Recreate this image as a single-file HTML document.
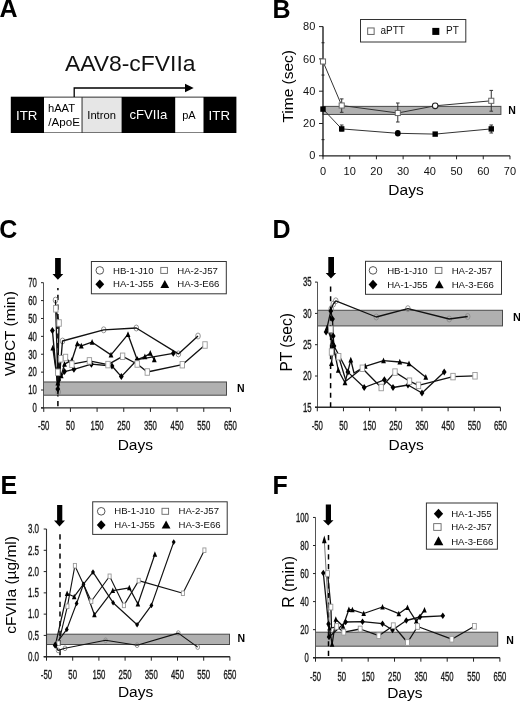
<!DOCTYPE html><html><head><meta charset="utf-8"><style>html,body{margin:0;padding:0;background:#fff;}svg{display:block;filter:blur(0.35px);}text{font-family:"Liberation Sans", sans-serif;}</style></head><body>
<svg width="520" height="702" viewBox="0 0 520 702">
<rect width="520" height="702" fill="#fff"/>
<text x="-0.5" y="17.4" font-size="25" text-anchor="start" font-weight="bold" fill="#000" >A</text>
<text x="130.2" y="71.4" font-size="22.9" text-anchor="middle" font-weight="normal" fill="#111" >AAV8-cFVIIa</text>
<path d="M74.2,97 L74.2,88 L187,88" fill="none" stroke="#000" stroke-width="1.3"/>
<path d="M185,83.7 L193.7,88 L185,92.3 Z" fill="#000"/>
<rect x="10.8" y="96.7" width="225.6" height="36.3" fill="#000" stroke="none" stroke-width="1"/>
<rect x="44" y="97.5" width="37.8" height="35" fill="#fff" stroke="none" stroke-width="1"/>
<rect x="82.3" y="97.5" width="39.3" height="35" fill="#e6e6e6" stroke="none" stroke-width="1"/>
<line x1="82" y1="97" x2="82" y2="133" stroke="#555" stroke-width="0.8" />
<rect x="175.2" y="97.5" width="28.3" height="35" fill="#fff" stroke="none" stroke-width="1"/>
<text x="26.7" y="119.5" font-size="13.3" text-anchor="middle" font-weight="normal" fill="#fff" >ITR</text>
<text x="61.5" y="112.4" font-size="11.2" text-anchor="middle" font-weight="normal" fill="#000" >hAAT</text>
<text x="64.1" y="125.8" font-size="11.6" text-anchor="middle" font-weight="normal" fill="#000" >/ApoE</text>
<text x="101.6" y="118.9" font-size="11.2" text-anchor="middle" font-weight="normal" fill="#000" >Intron</text>
<text x="148.4" y="119.3" font-size="13.1" text-anchor="middle" font-weight="normal" fill="#fff" >cFVIIa</text>
<text x="188.9" y="119.3" font-size="11.0" text-anchor="middle" font-weight="normal" fill="#000" >pA</text>
<text x="219.3" y="119.5" font-size="13.3" text-anchor="middle" font-weight="normal" fill="#fff" >ITR</text>
<text x="272.5" y="17.6" font-size="25" text-anchor="start" font-weight="bold" fill="#000" >B</text>
<rect x="323" y="106.38" width="177.9" height="8.08" fill="#b0b0b0" stroke="#4a4a4a" stroke-width="1"/>
<line x1="323" y1="26.6" x2="323" y2="156.3" stroke="#222" stroke-width="1.4" />
<line x1="322.5" y1="155.8" x2="509.97" y2="155.8" stroke="#222" stroke-width="1.3" />
<line x1="319" y1="155.8" x2="323" y2="155.8" stroke="#222" stroke-width="1" />
<text x="315.3" y="159.4" font-size="11" text-anchor="end" font-weight="normal" fill="#111" >0</text>
<line x1="319" y1="123.5" x2="323" y2="123.5" stroke="#222" stroke-width="1" />
<text x="315.3" y="127.1" font-size="11" text-anchor="end" font-weight="normal" fill="#111" >20</text>
<line x1="319" y1="91.2" x2="323" y2="91.2" stroke="#222" stroke-width="1" />
<text x="315.3" y="94.8" font-size="11" text-anchor="end" font-weight="normal" fill="#111" >40</text>
<line x1="319" y1="58.9" x2="323" y2="58.9" stroke="#222" stroke-width="1" />
<text x="315.3" y="62.5" font-size="11" text-anchor="end" font-weight="normal" fill="#111" >60</text>
<line x1="319" y1="26.6" x2="323" y2="26.6" stroke="#222" stroke-width="1" />
<text x="315.3" y="30.2" font-size="11" text-anchor="end" font-weight="normal" fill="#111" >80</text>
<line x1="321.5" y1="139.65" x2="324.5" y2="139.65" stroke="#222" stroke-width="1" />
<line x1="321.5" y1="107.35" x2="324.5" y2="107.35" stroke="#222" stroke-width="1" />
<line x1="321.5" y1="75.05" x2="324.5" y2="75.05" stroke="#222" stroke-width="1" />
<line x1="321.5" y1="42.75" x2="324.5" y2="42.75" stroke="#222" stroke-width="1" />
<line x1="323" y1="155.8" x2="323" y2="159.3" stroke="#222" stroke-width="1" />
<text x="323" y="175.3" font-size="11" text-anchor="middle" font-weight="normal" fill="#111" >0</text>
<line x1="349.71" y1="155.8" x2="349.71" y2="159.3" stroke="#222" stroke-width="1" />
<text x="349.71" y="175.3" font-size="11" text-anchor="middle" font-weight="normal" fill="#111" >10</text>
<line x1="376.42" y1="155.8" x2="376.42" y2="159.3" stroke="#222" stroke-width="1" />
<text x="376.42" y="175.3" font-size="11" text-anchor="middle" font-weight="normal" fill="#111" >20</text>
<line x1="403.13" y1="155.8" x2="403.13" y2="159.3" stroke="#222" stroke-width="1" />
<text x="403.13" y="175.3" font-size="11" text-anchor="middle" font-weight="normal" fill="#111" >30</text>
<line x1="429.84" y1="155.8" x2="429.84" y2="159.3" stroke="#222" stroke-width="1" />
<text x="429.84" y="175.3" font-size="11" text-anchor="middle" font-weight="normal" fill="#111" >40</text>
<line x1="456.55" y1="155.8" x2="456.55" y2="159.3" stroke="#222" stroke-width="1" />
<text x="456.55" y="175.3" font-size="11" text-anchor="middle" font-weight="normal" fill="#111" >50</text>
<line x1="483.26" y1="155.8" x2="483.26" y2="159.3" stroke="#222" stroke-width="1" />
<text x="483.26" y="175.3" font-size="11" text-anchor="middle" font-weight="normal" fill="#111" >60</text>
<line x1="509.97" y1="155.8" x2="509.97" y2="159.3" stroke="#222" stroke-width="1" />
<text x="509.97" y="175.3" font-size="11" text-anchor="middle" font-weight="normal" fill="#111" >70</text>
<text x="406" y="195" font-size="15.5" text-anchor="middle" font-weight="normal" fill="#000" >Days</text>
<text transform="translate(292.8,86.3) rotate(-90)" x="0" y="0" font-size="15.5" text-anchor="middle" fill="#000">Time (sec)</text>
<text x="508.3" y="114" font-size="10.5" text-anchor="start" font-weight="bold" fill="#000" >N</text>
<rect x="360.5" y="19.5" width="105.3" height="22.5" fill="#fff" stroke="#333" stroke-width="1"/>
<rect x="367.66" y="27.96" width="6.48" height="6.48" fill="#fff" stroke="#666" stroke-width="1"/>
<text x="380.5" y="34.1" font-size="10" text-anchor="start" font-weight="normal" fill="#111" >aPTT</text>
<rect x="432.29" y="27.89" width="7.02" height="7.02" fill="#000"/>
<text x="446" y="34.1" font-size="10" text-anchor="start" font-weight="normal" fill="#111" >PT</text>
<line x1="341.7" y1="98.9" x2="341.7" y2="112.3" stroke="#333" stroke-width="1" />
<line x1="339.9" y1="98.9" x2="343.5" y2="98.9" stroke="#333" stroke-width="1" />
<line x1="339.9" y1="112.3" x2="343.5" y2="112.3" stroke="#333" stroke-width="1" />
<line x1="397.79" y1="103" x2="397.79" y2="122" stroke="#333" stroke-width="1" />
<line x1="395.99" y1="103" x2="399.59" y2="103" stroke="#333" stroke-width="1" />
<line x1="395.99" y1="122" x2="399.59" y2="122" stroke="#333" stroke-width="1" />
<line x1="491.27" y1="90.4" x2="491.27" y2="111.2" stroke="#333" stroke-width="1" />
<line x1="489.47" y1="90.4" x2="493.07" y2="90.4" stroke="#333" stroke-width="1" />
<line x1="489.47" y1="111.2" x2="493.07" y2="111.2" stroke="#333" stroke-width="1" />
<line x1="491.27" y1="125" x2="491.27" y2="133" stroke="#333" stroke-width="1" />
<line x1="489.47" y1="125" x2="493.07" y2="125" stroke="#333" stroke-width="1" />
<line x1="489.47" y1="133" x2="493.07" y2="133" stroke="#333" stroke-width="1" />
<line x1="341.7" y1="125" x2="341.7" y2="131" stroke="#333" stroke-width="1" />
<line x1="339.9" y1="125" x2="343.5" y2="125" stroke="#333" stroke-width="1" />
<line x1="339.9" y1="131" x2="343.5" y2="131" stroke="#333" stroke-width="1" />
<polyline points="323,61.5 341.7,105.5 397.79,113 435.18,105.8 491.27,100.8" fill="none" stroke="#333" stroke-width="1.0" stroke-linejoin="round"/>
<polyline points="323,109.1 341.7,128.9 397.79,133.3 435.18,134.1 491.27,128.9" fill="none" stroke="#333" stroke-width="1.0" stroke-linejoin="round"/>
<rect x="320.45" y="58.95" width="5.1" height="5.1" fill="#fff" stroke="#666" stroke-width="1"/>
<rect x="339.15" y="102.95" width="5.1" height="5.1" fill="#fff" stroke="#666" stroke-width="1"/>
<rect x="395.24" y="110.45" width="5.1" height="5.1" fill="#fff" stroke="#666" stroke-width="1"/>
<circle cx="435.18" cy="105.8" r="2.8" fill="#fff" stroke="#222" stroke-width="1.1"/>
<rect x="488.72" y="98.25" width="5.1" height="5.1" fill="#fff" stroke="#666" stroke-width="1"/>
<rect x="320.3" y="106.4" width="5.4" height="5.4" fill="#000"/>
<rect x="339" y="126.2" width="5.4" height="5.4" fill="#000"/>
<ellipse cx="397.79" cy="133.3" rx="2.9" ry="3.3" fill="#000"/>
<rect x="432.48" y="131.4" width="5.4" height="5.4" fill="#000"/>
<rect x="488.57" y="126.2" width="5.4" height="5.4" fill="#000"/>
<text x="-0.8" y="238.4" font-size="25" text-anchor="start" font-weight="bold" fill="#000" >C</text>
<rect x="43.5" y="381.97" width="183" height="13.24" fill="#b0b0b0" stroke="#4a4a4a" stroke-width="1"/>
<line x1="43.5" y1="282.7" x2="43.5" y2="407.9" stroke="#555" stroke-width="1" />
<line x1="41" y1="407.9" x2="230.44" y2="407.9" stroke="#2a2a2a" stroke-width="1.4" />
<line x1="41" y1="407.9" x2="43.5" y2="407.9" stroke="#222" stroke-width="1" />
<text x="36.9" y="412.2" font-size="12" text-anchor="end" fill="#1a1a1a" stroke="#1a1a1a" stroke-width="0.35" textLength="4.34" lengthAdjust="spacingAndGlyphs">0</text>
<line x1="41" y1="390.01" x2="43.5" y2="390.01" stroke="#222" stroke-width="1" />
<text x="36.9" y="394.31" font-size="12" text-anchor="end" fill="#1a1a1a" stroke="#1a1a1a" stroke-width="0.35" textLength="8.67" lengthAdjust="spacingAndGlyphs">10</text>
<line x1="41" y1="372.13" x2="43.5" y2="372.13" stroke="#222" stroke-width="1" />
<text x="36.9" y="376.43" font-size="12" text-anchor="end" fill="#1a1a1a" stroke="#1a1a1a" stroke-width="0.35" textLength="8.67" lengthAdjust="spacingAndGlyphs">20</text>
<line x1="41" y1="354.24" x2="43.5" y2="354.24" stroke="#222" stroke-width="1" />
<text x="36.9" y="358.54" font-size="12" text-anchor="end" fill="#1a1a1a" stroke="#1a1a1a" stroke-width="0.35" textLength="8.67" lengthAdjust="spacingAndGlyphs">30</text>
<line x1="41" y1="336.36" x2="43.5" y2="336.36" stroke="#222" stroke-width="1" />
<text x="36.9" y="340.66" font-size="12" text-anchor="end" fill="#1a1a1a" stroke="#1a1a1a" stroke-width="0.35" textLength="8.67" lengthAdjust="spacingAndGlyphs">40</text>
<line x1="41" y1="318.47" x2="43.5" y2="318.47" stroke="#222" stroke-width="1" />
<text x="36.9" y="322.77" font-size="12" text-anchor="end" fill="#1a1a1a" stroke="#1a1a1a" stroke-width="0.35" textLength="8.67" lengthAdjust="spacingAndGlyphs">50</text>
<line x1="41" y1="300.58" x2="43.5" y2="300.58" stroke="#222" stroke-width="1" />
<text x="36.9" y="304.88" font-size="12" text-anchor="end" fill="#1a1a1a" stroke="#1a1a1a" stroke-width="0.35" textLength="8.67" lengthAdjust="spacingAndGlyphs">60</text>
<line x1="41" y1="282.7" x2="43.5" y2="282.7" stroke="#222" stroke-width="1" />
<text x="36.9" y="287" font-size="12" text-anchor="end" fill="#1a1a1a" stroke="#1a1a1a" stroke-width="0.35" textLength="8.67" lengthAdjust="spacingAndGlyphs">70</text>
<line x1="43.75" y1="407.9" x2="43.75" y2="411.9" stroke="#222" stroke-width="1" />
<text x="43.75" y="430.3" font-size="12" text-anchor="middle" fill="#1a1a1a" stroke="#1a1a1a" stroke-width="0.35" textLength="11.27" lengthAdjust="spacingAndGlyphs">-50</text>
<line x1="70.42" y1="407.9" x2="70.42" y2="411.9" stroke="#222" stroke-width="1" />
<text x="70.42" y="430.3" font-size="12" text-anchor="middle" fill="#1a1a1a" stroke="#1a1a1a" stroke-width="0.35" textLength="8.67" lengthAdjust="spacingAndGlyphs">50</text>
<line x1="97.09" y1="407.9" x2="97.09" y2="411.9" stroke="#222" stroke-width="1" />
<text x="97.09" y="430.3" font-size="12" text-anchor="middle" fill="#1a1a1a" stroke="#1a1a1a" stroke-width="0.35" textLength="13.01" lengthAdjust="spacingAndGlyphs">150</text>
<line x1="123.76" y1="407.9" x2="123.76" y2="411.9" stroke="#222" stroke-width="1" />
<text x="123.76" y="430.3" font-size="12" text-anchor="middle" fill="#1a1a1a" stroke="#1a1a1a" stroke-width="0.35" textLength="13.01" lengthAdjust="spacingAndGlyphs">250</text>
<line x1="150.43" y1="407.9" x2="150.43" y2="411.9" stroke="#222" stroke-width="1" />
<text x="150.43" y="430.3" font-size="12" text-anchor="middle" fill="#1a1a1a" stroke="#1a1a1a" stroke-width="0.35" textLength="13.01" lengthAdjust="spacingAndGlyphs">350</text>
<line x1="177.1" y1="407.9" x2="177.1" y2="411.9" stroke="#222" stroke-width="1" />
<text x="177.1" y="430.3" font-size="12" text-anchor="middle" fill="#1a1a1a" stroke="#1a1a1a" stroke-width="0.35" textLength="13.01" lengthAdjust="spacingAndGlyphs">450</text>
<line x1="203.77" y1="407.9" x2="203.77" y2="411.9" stroke="#222" stroke-width="1" />
<text x="203.77" y="430.3" font-size="12" text-anchor="middle" fill="#1a1a1a" stroke="#1a1a1a" stroke-width="0.35" textLength="13.01" lengthAdjust="spacingAndGlyphs">550</text>
<line x1="230.44" y1="407.9" x2="230.44" y2="411.9" stroke="#222" stroke-width="1" />
<text x="230.44" y="430.3" font-size="12" text-anchor="middle" fill="#1a1a1a" stroke="#1a1a1a" stroke-width="0.35" textLength="13.01" lengthAdjust="spacingAndGlyphs">650</text>
<text x="135.3" y="450.2" font-size="15.5" text-anchor="middle" font-weight="normal" fill="#000" >Days</text>
<text transform="translate(14.8,333.6) rotate(-90)" x="0" y="0" font-size="15.5" text-anchor="middle" fill="#000">WBCT (min)</text>
<text x="237" y="392.4" font-size="10.5" text-anchor="start" font-weight="bold" fill="#000" >N</text>
<line x1="57.9" y1="288" x2="57.9" y2="406.5" stroke="#000" stroke-width="1.5" stroke-dasharray="5.2,4.45" stroke-dashoffset="2.85"/>
<path d="M55.1,258.1L60.8,258.1L60.8,273.9L63.3,273.9L57.9,279.7L52.5,273.9L55.1,273.9Z" fill="#000"/>
<rect x="91.4" y="261.5" width="134.9" height="32.3" fill="#fff" stroke="#333" stroke-width="1"/>
<circle cx="99.8" cy="270.4" r="3.8" fill="#fff" stroke="#555" stroke-width="1"/>
<text x="113" y="273.5" font-size="9.6" text-anchor="start" font-weight="normal" fill="#111" >HB-1-J10</text>
<rect x="160.8" y="267.4" width="6.6" height="6" fill="#fff" stroke="#666" stroke-width="0.9"/>
<text x="177.3" y="273.5" font-size="9.6" text-anchor="start" font-weight="normal" fill="#111" >HA-2-J57</text>
<path d="M99.8,279.5L104.2,284.3L99.8,289.1L95.4,284.3Z" fill="#000"/>
<text x="113" y="287.4" font-size="9.6" text-anchor="start" font-weight="normal" fill="#111" >HA-1-J55</text>
<path d="M164.8,279.9L169.2,287.91L160.4,287.91Z" fill="#000"/>
<text x="177.3" y="287.4" font-size="9.6" text-anchor="start" font-weight="normal" fill="#111" >HA-3-E66</text>
<ellipse cx="55.5" cy="300.1" rx="2.3" ry="3" fill="none" stroke="#8a8a8a" stroke-width="0.9"/>
<ellipse cx="58.2" cy="392" rx="2.3" ry="3" fill="none" stroke="#8a8a8a" stroke-width="0.9"/>
<ellipse cx="62.5" cy="341" rx="2.3" ry="3" fill="none" stroke="#8a8a8a" stroke-width="0.9"/>
<ellipse cx="103.7" cy="329.8" rx="2.3" ry="3" fill="none" stroke="#8a8a8a" stroke-width="0.9"/>
<ellipse cx="136.3" cy="328" rx="2.3" ry="3" fill="none" stroke="#8a8a8a" stroke-width="0.9"/>
<ellipse cx="178.4" cy="353.9" rx="2.3" ry="3" fill="none" stroke="#8a8a8a" stroke-width="0.9"/>
<ellipse cx="198" cy="336" rx="2.3" ry="3" fill="none" stroke="#8a8a8a" stroke-width="0.9"/>
<polyline points="55.5,300.1 58.2,392 62.5,341 103.7,329.8 136.3,328 178.4,353.9 198,336" fill="none" stroke="#111" stroke-width="1.35" stroke-linejoin="round"/>
<polyline points="52.4,330.4 57.8,389 58.8,380 64.5,371.6 73.9,369.3 91.4,364.2 112,366 121.3,376.6 137.2,359.7 173.3,353.3" fill="none" stroke="#111" stroke-width="1.35" stroke-linejoin="round"/>
<path d="M52.4,326.9L54.8,330.4L52.4,333.9L50,330.4Z" fill="#000"/>
<path d="M57.8,385.5L60.2,389L57.8,392.5L55.4,389Z" fill="#000"/>
<path d="M58.8,376.5L61.2,380L58.8,383.5L56.4,380Z" fill="#000"/>
<path d="M64.5,368.1L66.9,371.6L64.5,375.1L62.1,371.6Z" fill="#000"/>
<path d="M73.9,365.8L76.3,369.3L73.9,372.8L71.5,369.3Z" fill="#000"/>
<path d="M91.4,360.7L93.8,364.2L91.4,367.7L89,364.2Z" fill="#000"/>
<path d="M112,362.5L114.4,366L112,369.5L109.6,366Z" fill="#000"/>
<path d="M121.3,373.1L123.7,376.6L121.3,380.1L118.9,376.6Z" fill="#000"/>
<path d="M137.2,356.2L139.6,359.7L137.2,363.2L134.8,359.7Z" fill="#000"/>
<path d="M173.3,349.8L175.7,353.3L173.3,356.8L170.9,353.3Z" fill="#000"/>
<polyline points="52.8,347.9 57.8,383 58.6,366.2 61.2,375.7 64.5,364.2 71.9,360.2 77.3,343.6 81.3,345.9 92.1,342.2 111,354.9 128,334.4 137.2,359.7 144.9,356.6 150.3,353.3 154.3,359.7" fill="none" stroke="#111" stroke-width="1.35" stroke-linejoin="round"/>
<path d="M52.8,344.7L55.2,350.46L50.4,350.46Z" fill="#000"/>
<path d="M57.8,379.8L60.2,385.56L55.4,385.56Z" fill="#000"/>
<path d="M58.6,363L61,368.76L56.2,368.76Z" fill="#000"/>
<path d="M61.2,372.5L63.6,378.26L58.8,378.26Z" fill="#000"/>
<path d="M64.5,361L66.9,366.76L62.1,366.76Z" fill="#000"/>
<path d="M71.9,357L74.3,362.76L69.5,362.76Z" fill="#000"/>
<path d="M77.3,340.4L79.7,346.16L74.9,346.16Z" fill="#000"/>
<path d="M81.3,342.7L83.7,348.46L78.9,348.46Z" fill="#000"/>
<path d="M92.1,339L94.5,344.76L89.7,344.76Z" fill="#000"/>
<path d="M111,351.7L113.4,357.46L108.6,357.46Z" fill="#000"/>
<path d="M128,331.2L130.4,336.96L125.6,336.96Z" fill="#000"/>
<path d="M137.2,356.5L139.6,362.26L134.8,362.26Z" fill="#000"/>
<path d="M144.9,353.4L147.3,359.16L142.5,359.16Z" fill="#000"/>
<path d="M150.3,350.1L152.7,355.86L147.9,355.86Z" fill="#000"/>
<path d="M154.3,356.5L156.7,362.26L151.9,362.26Z" fill="#000"/>
<polyline points="55.8,308.8 59.1,323 57.8,372.3 60.9,358.8 65.5,357.5 71.9,364.2 89.4,360.9 108,364.6 122.6,356.3 137.2,364 147.3,372 182.3,364.7 205,345" fill="none" stroke="#111" stroke-width="1.35" stroke-linejoin="round"/>
<rect x="53.6" y="305.55" width="4.4" height="6.5" fill="#fff" stroke="#999" stroke-width="0.9"/>
<rect x="56.9" y="319.75" width="4.4" height="6.5" fill="#fff" stroke="#999" stroke-width="0.9"/>
<rect x="55.6" y="369.05" width="4.4" height="6.5" fill="#fff" stroke="#999" stroke-width="0.9"/>
<rect x="58.7" y="355.55" width="4.4" height="6.5" fill="#fff" stroke="#999" stroke-width="0.9"/>
<rect x="63.3" y="354.25" width="4.4" height="6.5" fill="#fff" stroke="#999" stroke-width="0.9"/>
<rect x="69.7" y="360.95" width="4.4" height="6.5" fill="#fff" stroke="#999" stroke-width="0.9"/>
<rect x="87.2" y="357.65" width="4.4" height="6.5" fill="#fff" stroke="#999" stroke-width="0.9"/>
<rect x="105.8" y="361.35" width="4.4" height="6.5" fill="#fff" stroke="#999" stroke-width="0.9"/>
<rect x="120.4" y="353.05" width="4.4" height="6.5" fill="#fff" stroke="#999" stroke-width="0.9"/>
<rect x="135" y="360.75" width="4.4" height="6.5" fill="#fff" stroke="#999" stroke-width="0.9"/>
<rect x="145.1" y="368.75" width="4.4" height="6.5" fill="#fff" stroke="#999" stroke-width="0.9"/>
<rect x="180.1" y="361.45" width="4.4" height="6.5" fill="#fff" stroke="#999" stroke-width="0.9"/>
<rect x="202.8" y="341.75" width="4.4" height="6.5" fill="#fff" stroke="#999" stroke-width="0.9"/>
<text x="272.6" y="238.3" font-size="25" text-anchor="start" font-weight="bold" fill="#000" >D</text>
<rect x="317.5" y="310.27" width="185" height="15.65" fill="#b0b0b0" stroke="#4a4a4a" stroke-width="1"/>
<line x1="317.5" y1="282.1" x2="317.5" y2="407.3" stroke="#555" stroke-width="1" />
<line x1="315" y1="407.3" x2="500.42" y2="407.3" stroke="#2a2a2a" stroke-width="1.4" />
<line x1="315" y1="407.3" x2="317.5" y2="407.3" stroke="#222" stroke-width="1" />
<text x="311.7" y="411.6" font-size="12" text-anchor="end" fill="#1a1a1a" stroke="#1a1a1a" stroke-width="0.35" textLength="8.67" lengthAdjust="spacingAndGlyphs">15</text>
<line x1="315" y1="376" x2="317.5" y2="376" stroke="#222" stroke-width="1" />
<text x="311.7" y="380.3" font-size="12" text-anchor="end" fill="#1a1a1a" stroke="#1a1a1a" stroke-width="0.35" textLength="8.67" lengthAdjust="spacingAndGlyphs">20</text>
<line x1="315" y1="344.7" x2="317.5" y2="344.7" stroke="#222" stroke-width="1" />
<text x="311.7" y="349" font-size="12" text-anchor="end" fill="#1a1a1a" stroke="#1a1a1a" stroke-width="0.35" textLength="8.67" lengthAdjust="spacingAndGlyphs">25</text>
<line x1="315" y1="313.4" x2="317.5" y2="313.4" stroke="#222" stroke-width="1" />
<text x="311.7" y="317.7" font-size="12" text-anchor="end" fill="#1a1a1a" stroke="#1a1a1a" stroke-width="0.35" textLength="8.67" lengthAdjust="spacingAndGlyphs">30</text>
<line x1="315" y1="282.1" x2="317.5" y2="282.1" stroke="#222" stroke-width="1" />
<text x="311.7" y="286.4" font-size="12" text-anchor="end" fill="#1a1a1a" stroke="#1a1a1a" stroke-width="0.35" textLength="8.67" lengthAdjust="spacingAndGlyphs">35</text>
<line x1="317.3" y1="407.3" x2="317.3" y2="411.3" stroke="#222" stroke-width="1" />
<text x="317.3" y="430.2" font-size="12" text-anchor="middle" fill="#1a1a1a" stroke="#1a1a1a" stroke-width="0.35" textLength="11.27" lengthAdjust="spacingAndGlyphs">-50</text>
<line x1="343.46" y1="407.3" x2="343.46" y2="411.3" stroke="#222" stroke-width="1" />
<text x="343.46" y="430.2" font-size="12" text-anchor="middle" fill="#1a1a1a" stroke="#1a1a1a" stroke-width="0.35" textLength="8.67" lengthAdjust="spacingAndGlyphs">50</text>
<line x1="369.62" y1="407.3" x2="369.62" y2="411.3" stroke="#222" stroke-width="1" />
<text x="369.62" y="430.2" font-size="12" text-anchor="middle" fill="#1a1a1a" stroke="#1a1a1a" stroke-width="0.35" textLength="13.01" lengthAdjust="spacingAndGlyphs">150</text>
<line x1="395.78" y1="407.3" x2="395.78" y2="411.3" stroke="#222" stroke-width="1" />
<text x="395.78" y="430.2" font-size="12" text-anchor="middle" fill="#1a1a1a" stroke="#1a1a1a" stroke-width="0.35" textLength="13.01" lengthAdjust="spacingAndGlyphs">250</text>
<line x1="421.94" y1="407.3" x2="421.94" y2="411.3" stroke="#222" stroke-width="1" />
<text x="421.94" y="430.2" font-size="12" text-anchor="middle" fill="#1a1a1a" stroke="#1a1a1a" stroke-width="0.35" textLength="13.01" lengthAdjust="spacingAndGlyphs">350</text>
<line x1="448.1" y1="407.3" x2="448.1" y2="411.3" stroke="#222" stroke-width="1" />
<text x="448.1" y="430.2" font-size="12" text-anchor="middle" fill="#1a1a1a" stroke="#1a1a1a" stroke-width="0.35" textLength="13.01" lengthAdjust="spacingAndGlyphs">450</text>
<line x1="474.26" y1="407.3" x2="474.26" y2="411.3" stroke="#222" stroke-width="1" />
<text x="474.26" y="430.2" font-size="12" text-anchor="middle" fill="#1a1a1a" stroke="#1a1a1a" stroke-width="0.35" textLength="13.01" lengthAdjust="spacingAndGlyphs">550</text>
<line x1="500.42" y1="407.3" x2="500.42" y2="411.3" stroke="#222" stroke-width="1" />
<text x="500.42" y="430.2" font-size="12" text-anchor="middle" fill="#1a1a1a" stroke="#1a1a1a" stroke-width="0.35" textLength="13.01" lengthAdjust="spacingAndGlyphs">650</text>
<text x="406.2" y="450.4" font-size="15.5" text-anchor="middle" font-weight="normal" fill="#000" >Days</text>
<text transform="translate(291.5,342.3) rotate(-90)" x="0" y="0" font-size="15.6" text-anchor="middle" fill="#000">PT (sec)</text>
<text x="513" y="321.2" font-size="11" text-anchor="start" font-weight="bold" fill="#000" >N</text>
<line x1="330.6" y1="286.5" x2="330.6" y2="407" stroke="#000" stroke-width="1.5" stroke-dasharray="5.2,4.45" stroke-dashoffset="0"/>
<path d="M328.3,257.1L334,257.1L334,273L336.2,273L330.95,278.5L325.7,273L328.3,273Z" fill="#000"/>
<rect x="365.5" y="261.3" width="136" height="33" fill="#fff" stroke="#333" stroke-width="1"/>
<circle cx="373" cy="270.4" r="3.8" fill="#fff" stroke="#555" stroke-width="1"/>
<text x="387.2" y="273.5" font-size="9.6" text-anchor="start" font-weight="normal" fill="#111" >HB-1-J10</text>
<rect x="435.3" y="267.4" width="6.6" height="6" fill="#fff" stroke="#666" stroke-width="0.9"/>
<text x="451.7" y="273.5" font-size="9.6" text-anchor="start" font-weight="normal" fill="#111" >HA-2-J57</text>
<path d="M373,279.8L377.4,284.6L373,289.4L368.6,284.6Z" fill="#000"/>
<text x="387.2" y="287.7" font-size="9.6" text-anchor="start" font-weight="normal" fill="#111" >HA-1-J55</text>
<path d="M439.3,280.2L443.7,288.21L434.9,288.21Z" fill="#000"/>
<text x="451.7" y="287.7" font-size="9.6" text-anchor="start" font-weight="normal" fill="#111" >HA-3-E66</text>
<ellipse cx="331.2" cy="309" rx="2.3" ry="3" fill="none" stroke="#8a8a8a" stroke-width="0.9"/>
<ellipse cx="333.3" cy="304" rx="2.3" ry="3" fill="none" stroke="#8a8a8a" stroke-width="0.9"/>
<ellipse cx="335.8" cy="300.8" rx="2.3" ry="3" fill="none" stroke="#8a8a8a" stroke-width="0.9"/>
<ellipse cx="376.3" cy="317" rx="2.3" ry="3" fill="none" stroke="#8a8a8a" stroke-width="0.9"/>
<ellipse cx="407.9" cy="308.7" rx="2.3" ry="3" fill="none" stroke="#8a8a8a" stroke-width="0.9"/>
<ellipse cx="449.2" cy="319" rx="2.3" ry="3" fill="none" stroke="#8a8a8a" stroke-width="0.9"/>
<ellipse cx="467.7" cy="316.5" rx="2.3" ry="3" fill="none" stroke="#8a8a8a" stroke-width="0.9"/>
<polyline points="331.2,309 333.3,304 335.8,300.8 376.3,317 407.9,308.7 449.2,319 467.7,316.5" fill="none" stroke="#111" stroke-width="1.3" stroke-linejoin="round"/>
<polyline points="326.1,331.9 330.8,311 332.5,319 333.2,336 334,346 347.9,372.1 364.2,387.5 384.4,379.8 393,387.5 408,385 422,393 444.2,372" fill="none" stroke="#111" stroke-width="1.3" stroke-linejoin="round"/>
<path d="M326.1,328.4L328.5,331.9L326.1,335.4L323.7,331.9Z" fill="#000"/>
<path d="M330.8,307.5L333.2,311L330.8,314.5L328.4,311Z" fill="#000"/>
<path d="M332.5,315.5L334.9,319L332.5,322.5L330.1,319Z" fill="#000"/>
<path d="M333.2,332.5L335.6,336L333.2,339.5L330.8,336Z" fill="#000"/>
<path d="M334,342.5L336.4,346L334,349.5L331.6,346Z" fill="#000"/>
<path d="M347.9,368.6L350.3,372.1L347.9,375.6L345.5,372.1Z" fill="#000"/>
<path d="M364.2,384L366.6,387.5L364.2,391L361.8,387.5Z" fill="#000"/>
<path d="M384.4,376.3L386.8,379.8L384.4,383.3L382,379.8Z" fill="#000"/>
<path d="M393,384L395.4,387.5L393,391L390.6,387.5Z" fill="#000"/>
<path d="M408,381.5L410.4,385L408,388.5L405.6,385Z" fill="#000"/>
<path d="M422,389.5L424.4,393L422,396.5L419.6,393Z" fill="#000"/>
<path d="M444.2,368.5L446.6,372L444.2,375.5L441.8,372Z" fill="#000"/>
<polyline points="327,328 332.5,342 338.3,370.2 345,382.7 350.8,360 354,373 365.2,366.3 383.5,360.6 399.8,362 409,363.7 425.8,377.2" fill="none" stroke="#111" stroke-width="1.3" stroke-linejoin="round"/>
<path d="M327,324.8L329.4,330.56L324.6,330.56Z" fill="#000"/>
<path d="M332.5,338.8L334.9,344.56L330.1,344.56Z" fill="#000"/>
<path d="M338.3,367L340.7,372.76L335.9,372.76Z" fill="#000"/>
<path d="M345,379.5L347.4,385.26L342.6,385.26Z" fill="#000"/>
<path d="M350.8,356.8L353.2,362.56L348.4,362.56Z" fill="#000"/>
<path d="M365.2,363.1L367.6,368.86L362.8,368.86Z" fill="#000"/>
<path d="M383.5,357.4L385.9,363.16L381.1,363.16Z" fill="#000"/>
<path d="M399.8,358.8L402.2,364.56L397.4,364.56Z" fill="#000"/>
<path d="M409,360.5L411.4,366.26L406.6,366.26Z" fill="#000"/>
<path d="M425.8,374L428.2,379.76L423.4,379.76Z" fill="#000"/>
<polyline points="331.5,363.5 333,347" fill="none" stroke="#111" stroke-width="1.3" stroke-linejoin="round"/>
<path d="M331.5,360.3L333.9,366.06L329.1,366.06Z" fill="#000"/>
<path d="M333,343.8L335.4,349.56L330.6,349.56Z" fill="#000"/>
<polyline points="330.8,329.3 331.5,352 338.7,356.7 346,381 362.3,368.3 381.2,387.5 395,372.1 409.5,381.2 418.5,385.4 453,376.6 475,375.8" fill="none" stroke="#111" stroke-width="1.3" stroke-linejoin="round"/>
<rect x="328.6" y="326.05" width="4.4" height="6.5" fill="#fff" stroke="#999" stroke-width="0.9"/>
<rect x="329.3" y="348.75" width="4.4" height="6.5" fill="#fff" stroke="#999" stroke-width="0.9"/>
<rect x="336.5" y="353.45" width="4.4" height="6.5" fill="#fff" stroke="#999" stroke-width="0.9"/>
<rect x="360.1" y="365.05" width="4.4" height="6.5" fill="#fff" stroke="#999" stroke-width="0.9"/>
<rect x="379" y="384.25" width="4.4" height="6.5" fill="#fff" stroke="#999" stroke-width="0.9"/>
<rect x="392.8" y="368.85" width="4.4" height="6.5" fill="#fff" stroke="#999" stroke-width="0.9"/>
<rect x="407.3" y="377.95" width="4.4" height="6.5" fill="#fff" stroke="#999" stroke-width="0.9"/>
<rect x="416.3" y="382.15" width="4.4" height="6.5" fill="#fff" stroke="#999" stroke-width="0.9"/>
<rect x="450.8" y="373.35" width="4.4" height="6.5" fill="#fff" stroke="#999" stroke-width="0.9"/>
<rect x="472.8" y="372.55" width="4.4" height="6.5" fill="#fff" stroke="#999" stroke-width="0.9"/>
<text x="0.5" y="494.2" font-size="25" text-anchor="start" font-weight="bold" fill="#000" >E</text>
<rect x="46.5" y="634.2" width="183" height="10.3" fill="#b0b0b0" stroke="#4a4a4a" stroke-width="1"/>
<line x1="46.5" y1="529.02" x2="46.5" y2="656.7" stroke="#333" stroke-width="1.1" />
<line x1="43.7" y1="656.7" x2="229.9" y2="656.7" stroke="#2a2a2a" stroke-width="1.4" />
<line x1="43.7" y1="656.7" x2="46.5" y2="656.7" stroke="#222" stroke-width="1" />
<text x="39.1" y="661" font-size="12" text-anchor="end" fill="#1a1a1a" stroke="#1a1a1a" stroke-width="0.35" textLength="11.18" lengthAdjust="spacingAndGlyphs">0.0</text>
<line x1="43.7" y1="635.42" x2="46.5" y2="635.42" stroke="#222" stroke-width="1" />
<text x="39.1" y="639.72" font-size="12" text-anchor="end" fill="#1a1a1a" stroke="#1a1a1a" stroke-width="0.35" textLength="11.18" lengthAdjust="spacingAndGlyphs">0.5</text>
<line x1="43.7" y1="614.14" x2="46.5" y2="614.14" stroke="#222" stroke-width="1" />
<text x="39.1" y="618.44" font-size="12" text-anchor="end" fill="#1a1a1a" stroke="#1a1a1a" stroke-width="0.35" textLength="11.18" lengthAdjust="spacingAndGlyphs">1.0</text>
<line x1="43.7" y1="592.86" x2="46.5" y2="592.86" stroke="#222" stroke-width="1" />
<text x="39.1" y="597.16" font-size="12" text-anchor="end" fill="#1a1a1a" stroke="#1a1a1a" stroke-width="0.35" textLength="11.18" lengthAdjust="spacingAndGlyphs">1.5</text>
<line x1="43.7" y1="571.58" x2="46.5" y2="571.58" stroke="#222" stroke-width="1" />
<text x="39.1" y="575.88" font-size="12" text-anchor="end" fill="#1a1a1a" stroke="#1a1a1a" stroke-width="0.35" textLength="11.18" lengthAdjust="spacingAndGlyphs">2.0</text>
<line x1="43.7" y1="550.3" x2="46.5" y2="550.3" stroke="#222" stroke-width="1" />
<text x="39.1" y="554.6" font-size="12" text-anchor="end" fill="#1a1a1a" stroke="#1a1a1a" stroke-width="0.35" textLength="11.18" lengthAdjust="spacingAndGlyphs">2.5</text>
<line x1="43.7" y1="529.02" x2="46.5" y2="529.02" stroke="#222" stroke-width="1" />
<text x="39.1" y="533.32" font-size="12" text-anchor="end" fill="#1a1a1a" stroke="#1a1a1a" stroke-width="0.35" textLength="11.18" lengthAdjust="spacingAndGlyphs">3.0</text>
<line x1="46.5" y1="656.7" x2="46.5" y2="660.7" stroke="#222" stroke-width="1" />
<text x="46.5" y="678.6" font-size="12" text-anchor="middle" fill="#1a1a1a" stroke="#1a1a1a" stroke-width="0.35" textLength="11.27" lengthAdjust="spacingAndGlyphs">-50</text>
<line x1="72.7" y1="656.7" x2="72.7" y2="660.7" stroke="#222" stroke-width="1" />
<text x="72.7" y="678.6" font-size="12" text-anchor="middle" fill="#1a1a1a" stroke="#1a1a1a" stroke-width="0.35" textLength="8.67" lengthAdjust="spacingAndGlyphs">50</text>
<line x1="98.9" y1="656.7" x2="98.9" y2="660.7" stroke="#222" stroke-width="1" />
<text x="98.9" y="678.6" font-size="12" text-anchor="middle" fill="#1a1a1a" stroke="#1a1a1a" stroke-width="0.35" textLength="13.01" lengthAdjust="spacingAndGlyphs">150</text>
<line x1="125.1" y1="656.7" x2="125.1" y2="660.7" stroke="#222" stroke-width="1" />
<text x="125.1" y="678.6" font-size="12" text-anchor="middle" fill="#1a1a1a" stroke="#1a1a1a" stroke-width="0.35" textLength="13.01" lengthAdjust="spacingAndGlyphs">250</text>
<line x1="151.3" y1="656.7" x2="151.3" y2="660.7" stroke="#222" stroke-width="1" />
<text x="151.3" y="678.6" font-size="12" text-anchor="middle" fill="#1a1a1a" stroke="#1a1a1a" stroke-width="0.35" textLength="13.01" lengthAdjust="spacingAndGlyphs">350</text>
<line x1="177.5" y1="656.7" x2="177.5" y2="660.7" stroke="#222" stroke-width="1" />
<text x="177.5" y="678.6" font-size="12" text-anchor="middle" fill="#1a1a1a" stroke="#1a1a1a" stroke-width="0.35" textLength="13.01" lengthAdjust="spacingAndGlyphs">450</text>
<line x1="203.7" y1="656.7" x2="203.7" y2="660.7" stroke="#222" stroke-width="1" />
<text x="203.7" y="678.6" font-size="12" text-anchor="middle" fill="#1a1a1a" stroke="#1a1a1a" stroke-width="0.35" textLength="13.01" lengthAdjust="spacingAndGlyphs">550</text>
<line x1="229.9" y1="656.7" x2="229.9" y2="660.7" stroke="#222" stroke-width="1" />
<text x="229.9" y="678.6" font-size="12" text-anchor="middle" fill="#1a1a1a" stroke="#1a1a1a" stroke-width="0.35" textLength="13.01" lengthAdjust="spacingAndGlyphs">650</text>
<text x="135.6" y="697.4" font-size="15.5" text-anchor="middle" font-weight="normal" fill="#000" >Days</text>
<text transform="translate(15.8,584.9) rotate(-90)" x="0" y="0" font-size="15.5" text-anchor="middle" fill="#000">cFVIIa (µg/ml)</text>
<text x="237.5" y="642" font-size="10.5" text-anchor="start" font-weight="bold" fill="#000" >N</text>
<line x1="60" y1="534.2" x2="60" y2="656.5" stroke="#000" stroke-width="1.5" stroke-dasharray="5.2,4.45" stroke-dashoffset="0"/>
<path d="M57.1,505.1L62.3,505.1L62.3,520.5L65,520.5L59.5,526.4L54,520.5L57.1,520.5Z" fill="#000"/>
<rect x="92.7" y="501.8" width="134.5" height="32.6" fill="#fff" stroke="#333" stroke-width="1"/>
<circle cx="101.2" cy="511.3" r="3.8" fill="#fff" stroke="#555" stroke-width="1"/>
<text x="114.3" y="514.4" font-size="9.6" text-anchor="start" font-weight="normal" fill="#111" >HB-1-J10</text>
<rect x="162" y="508.3" width="6.6" height="6" fill="#fff" stroke="#666" stroke-width="0.9"/>
<text x="178.5" y="514.4" font-size="9.6" text-anchor="start" font-weight="normal" fill="#111" >HA-2-J57</text>
<path d="M101.2,520.2L105.6,525L101.2,529.8L96.8,525Z" fill="#000"/>
<text x="114.3" y="528.1" font-size="9.6" text-anchor="start" font-weight="normal" fill="#111" >HA-1-J55</text>
<path d="M166.1,520.6L170.5,528.61L161.7,528.61Z" fill="#000"/>
<text x="178.5" y="528.1" font-size="9.6" text-anchor="start" font-weight="normal" fill="#111" >HA-3-E66</text>
<ellipse cx="55.4" cy="645" rx="1.84" ry="2.4" fill="none" stroke="#8a8a8a" stroke-width="0.9"/>
<ellipse cx="58.1" cy="650.4" rx="1.84" ry="2.4" fill="none" stroke="#8a8a8a" stroke-width="0.9"/>
<ellipse cx="65" cy="648.3" rx="1.84" ry="2.4" fill="none" stroke="#8a8a8a" stroke-width="0.9"/>
<ellipse cx="105.6" cy="640.3" rx="1.84" ry="2.4" fill="none" stroke="#8a8a8a" stroke-width="0.9"/>
<ellipse cx="137.1" cy="645.2" rx="1.84" ry="2.4" fill="none" stroke="#8a8a8a" stroke-width="0.9"/>
<ellipse cx="178.3" cy="633.1" rx="1.84" ry="2.4" fill="none" stroke="#8a8a8a" stroke-width="0.9"/>
<ellipse cx="197.7" cy="647.1" rx="1.84" ry="2.4" fill="none" stroke="#8a8a8a" stroke-width="0.9"/>
<polyline points="55.4,645 58.1,650.4 65,648.3 105.6,640.3 137.1,645.2 178.3,633.1 197.7,647.1" fill="none" stroke="#111" stroke-width="1.15" stroke-linejoin="round"/>
<polyline points="55.4,645 67.1,593.5 74.2,596.7 83.5,584.2 94.4,614.8 112.8,590.6 129.3,587.9 137.9,604 154.9,554.2" fill="none" stroke="#111" stroke-width="1.2" stroke-linejoin="round"/>
<path d="M67.1,590.46L69.38,595.93L64.82,595.93Z" fill="#000"/>
<path d="M74.2,593.66L76.48,599.13L71.92,599.13Z" fill="#000"/>
<path d="M94.4,611.76L96.68,617.23L92.12,617.23Z" fill="#000"/>
<path d="M112.8,587.56L115.08,593.03L110.52,593.03Z" fill="#000"/>
<path d="M129.3,584.86L131.58,590.33L127.02,590.33Z" fill="#000"/>
<path d="M137.9,600.96L140.18,606.43L135.62,606.43Z" fill="#000"/>
<path d="M154.9,551.16L157.18,556.63L152.62,556.63Z" fill="#000"/>
<polyline points="55.4,644.5 66.8,629.4 76.6,603.4 83.5,584.2 93,572.1 113.1,602.7 137.1,624.8 151.4,605.4 173.7,542.1" fill="none" stroke="#111" stroke-width="1.2" stroke-linejoin="round"/>
<path d="M55.4,641.7L57.32,644.5L55.4,647.3L53.48,644.5Z" fill="#000"/>
<path d="M66.8,626.6L68.72,629.4L66.8,632.2L64.88,629.4Z" fill="#000"/>
<path d="M76.6,600.6L78.52,603.4L76.6,606.2L74.68,603.4Z" fill="#000"/>
<path d="M83.5,581.4L85.42,584.2L83.5,587L81.58,584.2Z" fill="#000"/>
<path d="M93,569.3L94.92,572.1L93,574.9L91.08,572.1Z" fill="#000"/>
<path d="M113.1,599.9L115.02,602.7L113.1,605.5L111.18,602.7Z" fill="#000"/>
<path d="M137.1,622L139.02,624.8L137.1,627.6L135.18,624.8Z" fill="#000"/>
<path d="M151.4,602.6L153.32,605.4L151.4,608.2L149.48,605.4Z" fill="#000"/>
<path d="M173.7,539.3L175.62,542.1L173.7,544.9L171.78,542.1Z" fill="#000"/>
<polyline points="58.5,643.3 67.4,606.3 74.9,565.7 91.3,601.3 109.6,576.3 123.9,605.4 138.7,580.6 182.9,593.3 204.4,550.2" fill="none" stroke="#111" stroke-width="1.1" stroke-linejoin="round"/>
<rect x="56.96" y="641.02" width="3.08" height="4.55" fill="#fff" stroke="#999" stroke-width="0.9"/>
<rect x="65.86" y="604.02" width="3.08" height="4.55" fill="#fff" stroke="#999" stroke-width="0.9"/>
<rect x="73.36" y="563.43" width="3.08" height="4.55" fill="#fff" stroke="#999" stroke-width="0.9"/>
<rect x="89.76" y="599.02" width="3.08" height="4.55" fill="#fff" stroke="#999" stroke-width="0.9"/>
<rect x="108.06" y="574.02" width="3.08" height="4.55" fill="#fff" stroke="#999" stroke-width="0.9"/>
<rect x="122.36" y="603.12" width="3.08" height="4.55" fill="#fff" stroke="#999" stroke-width="0.9"/>
<rect x="137.16" y="578.33" width="3.08" height="4.55" fill="#fff" stroke="#999" stroke-width="0.9"/>
<rect x="181.36" y="591.02" width="3.08" height="4.55" fill="#fff" stroke="#999" stroke-width="0.9"/>
<rect x="202.86" y="547.93" width="3.08" height="4.55" fill="#fff" stroke="#999" stroke-width="0.9"/>
<path d="M55.2,641.8L57.6,645.3L55.2,648.8L52.8,645.3Z" fill="#000"/>
<text x="272.6" y="494.2" font-size="25" text-anchor="start" font-weight="bold" fill="#000" >F</text>
<rect x="315.5" y="632.2" width="182.2" height="14" fill="#b0b0b0" stroke="#4a4a4a" stroke-width="1"/>
<line x1="315.5" y1="517.45" x2="315.5" y2="657.7" stroke="#555" stroke-width="1" />
<line x1="313" y1="657.7" x2="499.88" y2="657.7" stroke="#2a2a2a" stroke-width="1.4" />
<line x1="313" y1="657.7" x2="315.5" y2="657.7" stroke="#222" stroke-width="1" />
<text x="308.8" y="662.1" font-size="12.4" text-anchor="end" fill="#1a1a1a" stroke="#1a1a1a" stroke-width="0.35" textLength="4.27" lengthAdjust="spacingAndGlyphs">0</text>
<line x1="313" y1="629.65" x2="315.5" y2="629.65" stroke="#222" stroke-width="1" />
<text x="308.8" y="634.05" font-size="12.4" text-anchor="end" fill="#1a1a1a" stroke="#1a1a1a" stroke-width="0.35" textLength="8.55" lengthAdjust="spacingAndGlyphs">20</text>
<line x1="313" y1="601.6" x2="315.5" y2="601.6" stroke="#222" stroke-width="1" />
<text x="308.8" y="606" font-size="12.4" text-anchor="end" fill="#1a1a1a" stroke="#1a1a1a" stroke-width="0.35" textLength="8.55" lengthAdjust="spacingAndGlyphs">40</text>
<line x1="313" y1="573.55" x2="315.5" y2="573.55" stroke="#222" stroke-width="1" />
<text x="308.8" y="577.95" font-size="12.4" text-anchor="end" fill="#1a1a1a" stroke="#1a1a1a" stroke-width="0.35" textLength="8.55" lengthAdjust="spacingAndGlyphs">60</text>
<line x1="313" y1="545.5" x2="315.5" y2="545.5" stroke="#222" stroke-width="1" />
<text x="308.8" y="549.9" font-size="12.4" text-anchor="end" fill="#1a1a1a" stroke="#1a1a1a" stroke-width="0.35" textLength="8.55" lengthAdjust="spacingAndGlyphs">80</text>
<line x1="313" y1="517.45" x2="315.5" y2="517.45" stroke="#222" stroke-width="1" />
<text x="308.8" y="521.85" font-size="12.4" text-anchor="end" fill="#1a1a1a" stroke="#1a1a1a" stroke-width="0.35" textLength="12.82" lengthAdjust="spacingAndGlyphs">100</text>
<line x1="315.5" y1="657.7" x2="315.5" y2="661.7" stroke="#222" stroke-width="1" />
<text x="315.5" y="681.3" font-size="12.4" text-anchor="middle" fill="#1a1a1a" stroke="#1a1a1a" stroke-width="0.35" textLength="11.11" lengthAdjust="spacingAndGlyphs">-50</text>
<line x1="341.84" y1="657.7" x2="341.84" y2="661.7" stroke="#222" stroke-width="1" />
<text x="341.84" y="681.3" font-size="12.4" text-anchor="middle" fill="#1a1a1a" stroke="#1a1a1a" stroke-width="0.35" textLength="8.55" lengthAdjust="spacingAndGlyphs">50</text>
<line x1="368.18" y1="657.7" x2="368.18" y2="661.7" stroke="#222" stroke-width="1" />
<text x="368.18" y="681.3" font-size="12.4" text-anchor="middle" fill="#1a1a1a" stroke="#1a1a1a" stroke-width="0.35" textLength="12.82" lengthAdjust="spacingAndGlyphs">150</text>
<line x1="394.52" y1="657.7" x2="394.52" y2="661.7" stroke="#222" stroke-width="1" />
<text x="394.52" y="681.3" font-size="12.4" text-anchor="middle" fill="#1a1a1a" stroke="#1a1a1a" stroke-width="0.35" textLength="12.82" lengthAdjust="spacingAndGlyphs">250</text>
<line x1="420.86" y1="657.7" x2="420.86" y2="661.7" stroke="#222" stroke-width="1" />
<text x="420.86" y="681.3" font-size="12.4" text-anchor="middle" fill="#1a1a1a" stroke="#1a1a1a" stroke-width="0.35" textLength="12.82" lengthAdjust="spacingAndGlyphs">350</text>
<line x1="447.2" y1="657.7" x2="447.2" y2="661.7" stroke="#222" stroke-width="1" />
<text x="447.2" y="681.3" font-size="12.4" text-anchor="middle" fill="#1a1a1a" stroke="#1a1a1a" stroke-width="0.35" textLength="12.82" lengthAdjust="spacingAndGlyphs">450</text>
<line x1="473.54" y1="657.7" x2="473.54" y2="661.7" stroke="#222" stroke-width="1" />
<text x="473.54" y="681.3" font-size="12.4" text-anchor="middle" fill="#1a1a1a" stroke="#1a1a1a" stroke-width="0.35" textLength="12.82" lengthAdjust="spacingAndGlyphs">550</text>
<line x1="499.88" y1="657.7" x2="499.88" y2="661.7" stroke="#222" stroke-width="1" />
<text x="499.88" y="681.3" font-size="12.4" text-anchor="middle" fill="#1a1a1a" stroke="#1a1a1a" stroke-width="0.35" textLength="12.82" lengthAdjust="spacingAndGlyphs">650</text>
<text x="404.8" y="698" font-size="15.5" text-anchor="middle" font-weight="normal" fill="#000" >Days</text>
<text transform="translate(293.5,581.8) rotate(-90)" x="0" y="0" font-size="15.8" text-anchor="middle" fill="#000">R (min)</text>
<text x="506.2" y="643.6" font-size="10.5" text-anchor="start" font-weight="bold" fill="#000" >N</text>
<line x1="328.5" y1="535" x2="328.5" y2="657.5" stroke="#000" stroke-width="1.5" stroke-dasharray="5.2,4.45" stroke-dashoffset="0"/>
<path d="M325.8,504.6L331,504.6L331,520.3L333.5,520.3L328.25,525.6L323,520.3L325.8,520.3Z" fill="#000"/>
<rect x="426.4" y="503" width="71" height="46.2" fill="#fff" stroke="#333" stroke-width="1"/>
<path d="M438.5,508.66L443.16,513.75L438.5,518.84L433.84,513.75Z" fill="#000"/>
<rect x="433.7" y="523.64" width="7.39" height="6.72" fill="#fff" stroke="#666" stroke-width="0.9"/>
<path d="M438.5,536.36L443.34,545.17L433.66,545.17Z" fill="#000"/>
<text x="451.2" y="516.8" font-size="9.6" text-anchor="start" font-weight="normal" fill="#111" >HA-1-J55</text>
<text x="451.2" y="530.1" font-size="9.6" text-anchor="start" font-weight="normal" fill="#111" >HA-2-J57</text>
<text x="451.2" y="544.5" font-size="9.6" text-anchor="start" font-weight="normal" fill="#111" >HA-3-E66</text>
<polyline points="324.3,540.2 329.5,628" fill="none" stroke="#666" stroke-width="0.9" stroke-linejoin="round"/>
<polyline points="329.5,628 332.1,644.3 335.8,619.3 343,626.3 348.9,609.5 352.4,609.9 363.7,613.5 382.5,607 398.8,613.7 407.5,607.5 416.3,621.3 424.5,610" fill="none" stroke="#111" stroke-width="1.3" stroke-linejoin="round"/>
<path d="M329.5,624.96L331.78,630.43L327.22,630.43Z" fill="#000"/>
<path d="M332.1,641.26L334.38,646.73L329.82,646.73Z" fill="#000"/>
<path d="M335.8,616.26L338.08,621.73L333.52,621.73Z" fill="#000"/>
<path d="M343,623.26L345.28,628.73L340.72,628.73Z" fill="#000"/>
<path d="M348.9,606.46L351.18,611.93L346.62,611.93Z" fill="#000"/>
<path d="M352.4,606.86L354.68,612.33L350.12,612.33Z" fill="#000"/>
<path d="M363.7,610.46L365.98,615.93L361.42,615.93Z" fill="#000"/>
<path d="M382.5,603.96L384.78,609.43L380.22,609.43Z" fill="#000"/>
<path d="M398.8,610.66L401.08,616.13L396.52,616.13Z" fill="#000"/>
<path d="M407.5,604.46L409.78,609.93L405.22,609.93Z" fill="#000"/>
<path d="M416.3,618.26L418.58,623.73L414.02,623.73Z" fill="#000"/>
<path d="M424.5,606.96L426.78,612.43L422.22,612.43Z" fill="#000"/>
<path d="M324.3,535.6 L326.6,543.2 L322,543.2 Z" fill="#000"/>
<polyline points="323.3,573 328.5,624 329,637 345.6,622 362.5,621.7 382.5,623.7 392.5,630 406.3,620.5 420,617 442.8,615.8" fill="none" stroke="#111" stroke-width="1.3" stroke-linejoin="round"/>
<path d="M323.3,569.67L325.58,573L323.3,576.33L321.02,573Z" fill="#000"/>
<path d="M328.5,620.67L330.78,624L328.5,627.33L326.22,624Z" fill="#000"/>
<path d="M329,633.67L331.28,637L329,640.33L326.72,637Z" fill="#000"/>
<path d="M345.6,618.67L347.88,622L345.6,625.33L343.32,622Z" fill="#000"/>
<path d="M362.5,618.38L364.78,621.7L362.5,625.03L360.22,621.7Z" fill="#000"/>
<path d="M382.5,620.38L384.78,623.7L382.5,627.03L380.22,623.7Z" fill="#000"/>
<path d="M392.5,626.67L394.78,630L392.5,633.33L390.22,630Z" fill="#000"/>
<path d="M406.3,617.17L408.58,620.5L406.3,623.83L404.02,620.5Z" fill="#000"/>
<path d="M420,613.67L422.28,617L420,620.33L417.72,617Z" fill="#000"/>
<path d="M442.8,612.47L445.08,615.8L442.8,619.12L440.52,615.8Z" fill="#000"/>
<polyline points="327.6,573.5 330.9,607.1 331.5,628 336.7,626.5 343.8,632.2 360.2,629 378.8,635.7 393.3,625.7 407.5,642.5 417.6,626.5 451.8,639.2 474.4,626.3" fill="none" stroke="#111" stroke-width="1.3" stroke-linejoin="round"/>
<rect x="325.66" y="570.64" width="3.87" height="5.72" fill="#fff" stroke="#999" stroke-width="0.9"/>
<rect x="328.96" y="604.24" width="3.87" height="5.72" fill="#fff" stroke="#999" stroke-width="0.9"/>
<rect x="334.76" y="623.64" width="3.87" height="5.72" fill="#fff" stroke="#999" stroke-width="0.9"/>
<rect x="341.86" y="629.34" width="3.87" height="5.72" fill="#fff" stroke="#999" stroke-width="0.9"/>
<rect x="358.26" y="626.14" width="3.87" height="5.72" fill="#fff" stroke="#999" stroke-width="0.9"/>
<rect x="376.86" y="632.84" width="3.87" height="5.72" fill="#fff" stroke="#999" stroke-width="0.9"/>
<rect x="391.36" y="622.84" width="3.87" height="5.72" fill="#fff" stroke="#999" stroke-width="0.9"/>
<rect x="405.56" y="639.64" width="3.87" height="5.72" fill="#fff" stroke="#999" stroke-width="0.9"/>
<rect x="415.66" y="623.64" width="3.87" height="5.72" fill="#fff" stroke="#999" stroke-width="0.9"/>
<rect x="449.86" y="636.34" width="3.87" height="5.72" fill="#fff" stroke="#999" stroke-width="0.9"/>
<rect x="472.46" y="623.44" width="3.87" height="5.72" fill="#fff" stroke="#999" stroke-width="0.9"/>
</svg></body></html>
